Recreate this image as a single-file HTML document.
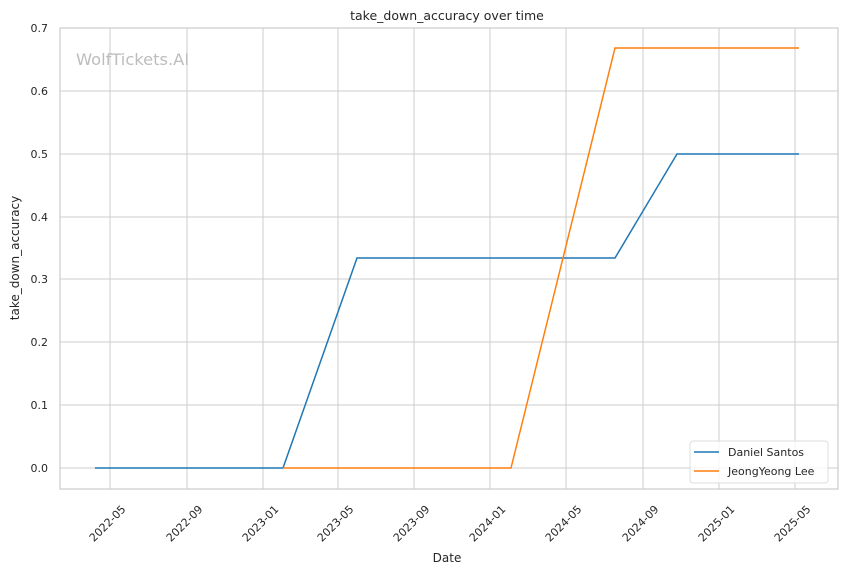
<!DOCTYPE html>
<html><head><meta charset="utf-8"><style>body{margin:0;background:#fff}svg{display:block}</style></head><body>
<svg width="844" height="575" xmlns="http://www.w3.org/2000/svg" font-family="DejaVu Sans, Liberation Sans, sans-serif" fill="#262626">
<rect width="844" height="575" fill="#fff"/>
<g stroke="#cccccc" stroke-width="1">
<line x1="60" x2="838" y1="28" y2="28"/><line x1="60" x2="838" y1="91" y2="91"/><line x1="60" x2="838" y1="154" y2="154"/><line x1="60" x2="838" y1="217" y2="217"/><line x1="60" x2="838" y1="279" y2="279"/><line x1="60" x2="838" y1="342" y2="342"/><line x1="60" x2="838" y1="405" y2="405"/><line x1="60" x2="838" y1="468" y2="468"/>
<line x1="110" x2="110" y1="28" y2="489"/><line x1="187" x2="187" y1="28" y2="489"/><line x1="263" x2="263" y1="28" y2="489"/><line x1="338" x2="338" y1="28" y2="489"/><line x1="414" x2="414" y1="28" y2="489"/><line x1="490" x2="490" y1="28" y2="489"/><line x1="566" x2="566" y1="28" y2="489"/><line x1="643" x2="643" y1="28" y2="489"/><line x1="719" x2="719" y1="28" y2="489"/><line x1="795" x2="795" y1="28" y2="489"/>
</g>
<rect x="60" y="28" width="778" height="461" fill="none" stroke="#cccccc" stroke-width="1.2"/>
<text x="76" y="65" font-size="16.3" fill="#bdbdbd">WolfTickets.AI</text>
<polyline points="95,468 283,468 357,258 615,258 677,154 799,154" fill="none" stroke="#1f77b4" stroke-width="1.5"/>
<polyline points="283,468 511,468 615,48 799,48" fill="none" stroke="#ff7f0e" stroke-width="1.5"/>
<g font-size="11" text-anchor="end">
<text x="48" y="32">0.7</text><text x="48" y="95">0.6</text><text x="48" y="158">0.5</text><text x="48" y="221">0.4</text><text x="48" y="283">0.3</text><text x="48" y="346">0.2</text><text x="48" y="409">0.1</text><text x="48" y="472">0.0</text>
</g>
<g font-size="11" text-anchor="middle" dominant-baseline="middle">
<text transform="translate(108,524) rotate(-45)">2022-05</text>
<text transform="translate(185,524) rotate(-45)">2022-09</text>
<text transform="translate(261,524) rotate(-45)">2023-01</text>
<text transform="translate(336,524) rotate(-45)">2023-05</text>
<text transform="translate(412,524) rotate(-45)">2023-09</text>
<text transform="translate(488,524) rotate(-45)">2024-01</text>
<text transform="translate(564,524) rotate(-45)">2024-05</text>
<text transform="translate(641,524) rotate(-45)">2024-09</text>
<text transform="translate(717,524) rotate(-45)">2025-01</text>
<text transform="translate(793,524) rotate(-45)">2025-05</text>
</g>
<text x="447" y="562" font-size="12" text-anchor="middle">Date</text>
<text transform="translate(19,258) rotate(-90)" font-size="12" text-anchor="middle">take_down_accuracy</text>
<text x="447" y="20" font-size="12.5" text-anchor="middle">take_down_accuracy over time</text>
<rect x="690" y="441" width="138" height="42" rx="3" fill="#fff" fill-opacity="0.8" stroke="#dddddd"/>
<line x1="694" x2="719" y1="452" y2="452" stroke="#1f77b4" stroke-width="1.5"/>
<line x1="694" x2="719" y1="471" y2="471" stroke="#ff7f0e" stroke-width="1.5"/>
<g font-size="11"><text x="728" y="456">Daniel Santos</text><text x="728" y="475">JeongYeong Lee</text></g>
</svg>
</body></html>
